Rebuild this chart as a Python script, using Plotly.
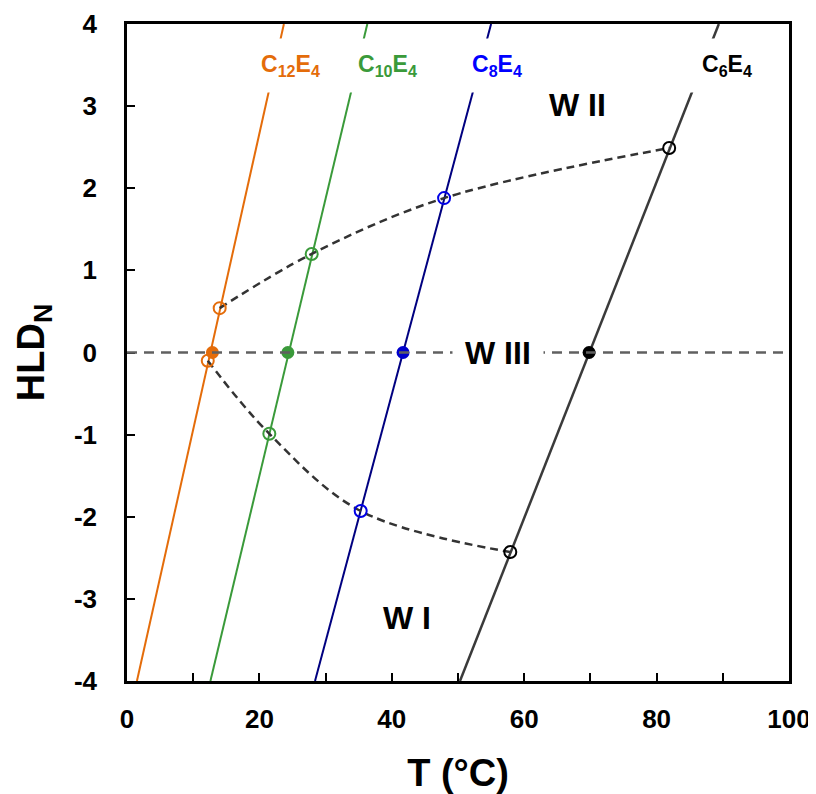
import plotly.graph_objects as go

# ---------------- data ----------------
surfactants = ["C<sub>12</sub>E<sub>4</sub>", "C<sub>10</sub>E<sub>4</sub>",
               "C<sub>8</sub>E<sub>4</sub>", "C<sub>6</sub>E<sub>4</sub>"]
line_colors = ["#E46C0A", "#3A9A3A", "#000080", "#3A3A3A"]
open_colors = ["#E46C0A", "#3A9A3A", "#0000E6", "#000000"]
fill_colors = ["#E46C0A", "#3A9A3A", "#0000CC", "#000000"]
label_colors = ["#E46C0A", "#3A9A3A", "#0000FF", "#000000"]

# HLD_N = f(T) straight lines: T at HLD_N = -4 and at HLD_N = +4
hld_ends = [-4, 4]
t_line_bottom = [1.5, 12.6, 28.4, 50.3]
t_line_top = [23.7, 36.3, 55.0, 89.4]

# optimum formulation (HLD_N = 0), filled circles
t_optimum = [12.9, 24.3, 41.7, 69.8]
hld_optimum = [0, 0, 0, 0]

# WIII / WII boundary (open circles, upper dashed curve)
t_upper = [14.0, 27.9, 47.9, 81.9]
hld_upper = [0.54, 1.20, 1.88, 2.49]

# WI / WIII boundary (open circles, lower dashed curve)
t_lower = [12.2, 21.5, 35.3, 57.9]
hld_lower = [-0.10, -0.99, -1.93, -2.43]

# surfactant label positions
label_t = [24.7, 39.3, 55.9, 90.6]
label_hld = [3.5, 3.5, 3.5, 3.5]

# phase region labels
regions = ["W I", "W II", "W III"]
region_t = [42.3, 68.0, 56.0]
region_hld = [-3.23, 3.01, 0.0]

# tick labels
x_tickvals = [0, 20, 40, 60, 80, 100]
x_ticktext = ["0", "20", "40", "60", "80", "100"]
y_tickvals = [-4, -3, -2, -1, 0, 1, 2, 3, 4]
y_ticktext = ["-4", "-3", "-2", "-1", "0", "1", "2", "3", "4"]

FONT = "Liberation Sans, Arial, Helvetica, sans-serif"

fig = go.Figure()

# surfactant lines
for i in range(4):
    fig.add_trace(go.Scatter(
        x=[t_line_bottom[i], t_line_top[i]], y=hld_ends, mode="lines",
        line=dict(color=line_colors[i], width=2.5 if i == 3 else 2),
        showlegend=False, hoverinfo="skip"))

# dashed phase-boundary curves
for tx, hy in ((t_upper, hld_upper), (t_lower, hld_lower)):
    fig.add_trace(go.Scatter(
        x=tx, y=hy, mode="lines",
        line=dict(color="#333333", width=2.5, dash="8px,5px", shape="spline", smoothing=1.0),
        showlegend=False, hoverinfo="skip"))

# open circles
for tx, hy in ((t_upper, hld_upper), (t_lower, hld_lower)):
    fig.add_trace(go.Scatter(
        x=tx, y=hy, mode="markers",
        marker=dict(symbol="circle-open", size=12, color=open_colors, line=dict(width=2, color=open_colors)),
        showlegend=False))

# filled circles
fig.add_trace(go.Scatter(
    x=t_optimum, y=hld_optimum, mode="markers",
    marker=dict(symbol="circle", size=13, color=fill_colors),
    showlegend=False))

# HLD_N = 0 reference line
fig.add_hline(y=0, line=dict(color="#606060", width=2.5, dash="10px,7px"), layer="above")

# surfactant labels (white box hides the line behind)
for i in range(4):
    fig.add_annotation(x=label_t[i], y=label_hld[i], text=surfactants[i], showarrow=False,
                       font=dict(family=FONT, size=23, color=label_colors[i], weight="bold"),
                       bgcolor="white", borderpad=12, xanchor="center", yanchor="middle")

# region labels
for name, tx, hy in zip(regions, region_t, region_hld):
    fig.add_annotation(x=tx, y=hy, text=name, showarrow=False,
                       font=dict(family=FONT, size=32, color="black", weight="bold"),
                       bgcolor="white" if name == "W III" else "rgba(0,0,0,0)",
                       borderpad=12, xanchor="center", yanchor="middle")

fig.update_xaxes(
    range=[0, 100], tickmode="array", tickvals=x_tickvals, ticktext=x_ticktext,
    ticks="inside", ticklen=8, tickwidth=2, tickcolor="black",
    minor=dict(dtick=10, tick0=0, ticks="inside", ticklen=8, tickwidth=2, tickcolor="black"),
    showline=True, linewidth=2.5, linecolor="black", mirror=True,
    showgrid=False, zeroline=False,
    tickfont=dict(family=FONT, size=26, color="black", weight="bold"),
    ticklabelstandoff=13,
    title=dict(text="T (°C)", font=dict(family=FONT, size=38, color="black", weight="bold"), standoff=29),
)
fig.update_yaxes(
    range=[-4, 4], tickmode="array", tickvals=y_tickvals, ticktext=y_ticktext,
    ticks="inside", ticklen=8, tickwidth=2, tickcolor="black",
    showline=True, linewidth=2.5, linecolor="black", mirror=True,
    showgrid=False, zeroline=False,
    tickfont=dict(family=FONT, size=26, color="black", weight="bold"),
    ticklabelstandoff=22,
    title=dict(text="HLD<sub>N</sub>", font=dict(family=FONT, size=38, color="black", weight="bold"), standoff=18),
)

# page body has an 8px default margin, so the figure is 8px smaller
fig.update_layout(
    width=808, height=786,
    margin=dict(l=118.5, r=27, t=15.5, b=112.5, autoexpand=False),
    plot_bgcolor="white", paper_bgcolor="white",
    showlegend=False,
)

fig.write_html("out.html")
